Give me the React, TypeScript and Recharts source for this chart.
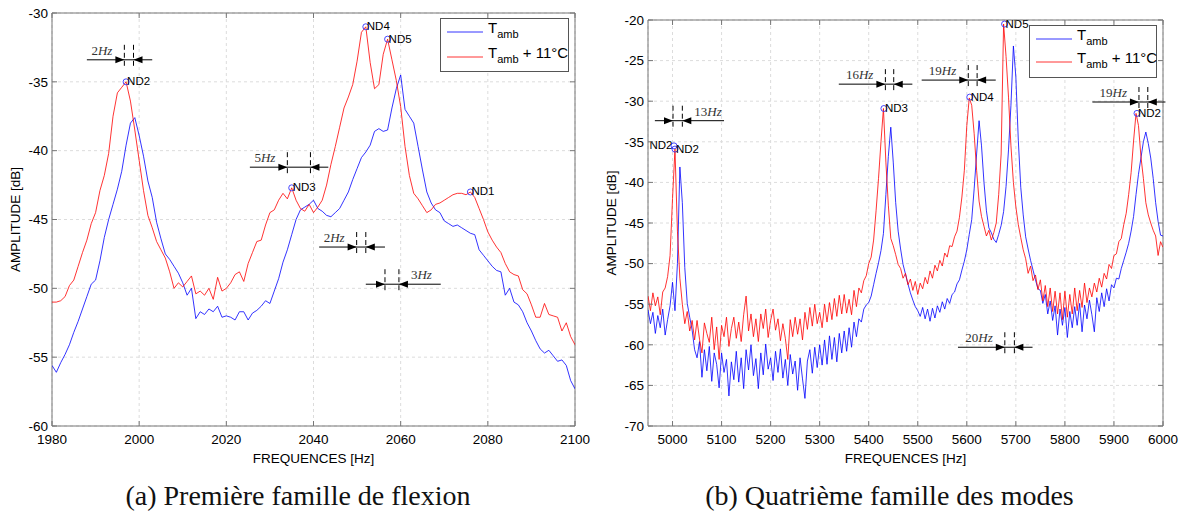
import React from "react";
import {
  ComposedChart,
  Line,
  Scatter,
  XAxis,
  YAxis,
  CartesianGrid,
  ReferenceLine,
  ReferenceDot,
  ReferenceArea,
  Legend,
} from "recharts";

// (a) first bending family, 1 Hz grid
const FREQ_A = Array.from({ length: 121 }, (_, i) => 1980 + i);
const TAMB_A = [
  -55.6, -56.1, -55.4, -54.8, -54.1, -53.2, -52.4, -51.5, -50.6, -49.7,
  -49.4, -48.0, -46.3, -45.0, -43.9, -42.8, -41.5, -39.6, -38.0, -37.6,
  -38.9, -40.4, -42.2, -43.4, -45.2, -46.4, -47.5, -47.9, -48.4, -48.9,
  -49.6, -50.5, -50.0, -52.2, -51.7, -51.9, -51.5, -51.7, -51.3, -52.1,
  -52.0, -52.1, -52.3, -51.7, -51.7, -52.3, -51.8, -51.6, -51.3, -50.9,
  -51.1, -50.2, -49.3, -48.1, -47.2, -46.1, -45.0, -44.3, -44.1, -43.9,
  -43.6, -44.2, -44.4, -44.7, -44.8, -44.5, -44.2, -43.6, -43.0, -42.1,
  -41.3, -40.5, -40.1, -39.6, -38.6, -38.4, -38.6, -38.5, -36.9, -35.5,
  -34.5, -37.0, -37.5, -38.0, -39.7, -41.4, -43.0, -43.8, -44.3, -44.5,
  -45.1, -45.3, -45.5, -45.4, -45.6, -45.8, -46.0, -46.1, -47.2, -47.6,
  -48.0, -48.4, -48.7, -48.8, -50.5, -50.0, -51.0, -51.2, -51.7, -52.5,
  -53.1, -53.8, -54.4, -54.7, -54.5, -54.9, -55.3, -55.2, -55.6, -56.7,
  -57.3,
];
const TPLUS_A = [
  -51.0, -51.0, -50.9, -50.6, -49.8, -49.4, -48.4, -47.4, -46.5, -45.3,
  -44.5, -42.9, -41.8, -40.2, -37.5, -35.8, -35.4, -35.0, -36.4, -38.5,
  -40.7, -42.9, -44.7, -45.6, -46.6, -47.2, -47.8, -48.8, -50.0, -49.6,
  -49.9, -49.5, -49.1, -50.4, -50.2, -50.5, -50.0, -50.8, -49.2, -50.2,
  -50.0, -49.6, -49.0, -48.8, -49.5, -48.2, -47.4, -46.6, -46.5, -45.4,
  -44.5, -44.3, -43.6, -43.1, -43.5, -42.7, -43.6, -44.2, -44.4, -43.9,
  -44.5, -44.1, -43.6, -42.5, -41.0, -39.7, -38.3, -36.9, -36.1, -35.2,
  -33.5, -31.4, -31.0, -33.6, -35.5, -35.2, -33.0, -31.9, -33.4, -34.9,
  -36.8, -39.7, -41.8, -43.1, -43.5, -44.0, -44.5, -44.3, -43.9, -43.8,
  -43.6, -43.4, -43.2, -43.1, -43.1, -43.2, -43.0, -43.4, -44.2, -45.0,
  -45.9, -46.5, -47.0, -47.4, -48.2, -48.8, -49.0, -49.1, -50.1, -50.4,
  -51.2, -52.1, -52.1, -51.1, -51.9, -52.0, -52.1, -53.1, -52.5, -53.5,
  -54.1,
];
const XTICKS_A = [1980, 2000, 2020, 2040, 2060, 2080, 2100];
const YTICKS_A = [-60, -55, -50, -45, -40, -35, -30];
const PEAKS_A = [
  { f: 1997, v: -35.0, name: "ND2" },
  { f: 2035, v: -42.7, name: "ND3" },
  { f: 2052, v: -31.0, name: "ND4" },
  { f: 2057, v: -31.9, name: "ND5" },
  { f: 2076, v: -43.0, name: "ND1" },
];
const GAPS_A = [
  { hz: "2", f1: 1996.6, f2: 1998.7, v: -33.4, from: 1988, to: 2003, side: "left" },
  { hz: "5", f1: 2034, f2: 2039.3, v: -41.2, from: 2025.4, to: 2043.4, side: "left" },
  { hz: "2", f1: 2049.9, f2: 2052, v: -47.0, from: 2041.3, to: 2056.4, side: "left" },
  { hz: "3", f1: 2056.4, f2: 2059.6, v: -49.7, from: 2052, to: 2069.2, side: "right" },
];

// (b) fourth mode family, 5 Hz grid
const FREQ_B = Array.from({ length: 211 }, (_, i) => 4950 + 5 * i);
const TAMB_B = [
  -55.7, -57.4, -56.0, -58.6, -56.4, -57.9, -55.6, -58.8, -56.9, -55.2,
  -52.3, -55.8, -50.0, -38.1, -42.5, -50.5, -54.9, -56.6, -58.2, -60.6,
  -61.6, -59.6, -64.0, -60.6, -63.2, -60.2, -64.5, -61.0, -62.4, -65.3,
  -61.0, -63.4, -61.8, -66.3, -62.1, -64.3, -60.8, -64.6, -61.6, -65.4,
  -60.6, -63.1, -60.0, -63.8, -61.7, -65.4, -61.0, -63.7, -59.9, -63.0,
  -61.6, -64.4, -60.8, -63.4, -60.5, -64.1, -61.8, -65.0, -61.2, -63.6,
  -62.0, -65.6, -61.6, -64.2, -66.6, -62.0, -60.6, -63.5, -60.3, -62.8,
  -60.0, -62.5, -59.4, -62.4, -58.9, -61.8, -59.1, -62.1, -58.6, -61.0,
  -58.3, -60.8, -57.9, -60.3, -57.2, -59.0, -56.8, -57.2, -55.6, -55.1,
  -54.8, -54.0, -52.6, -51.2, -49.9, -48.4, -46.3, -41.5, -36.8, -33.2,
  -37.5, -42.5, -46.0, -48.2, -50.1, -51.3, -52.5, -53.6, -54.5, -55.3,
  -55.8, -56.5, -55.4, -56.8, -55.6, -57.1, -55.5, -56.7, -55.2, -56.0,
  -54.7, -55.6, -54.3, -54.9, -53.8, -53.5, -52.5, -52.0, -50.8, -49.7,
  -48.3, -46.4, -44.6, -40.8, -36.5, -32.4, -35.5, -40.0, -43.5, -45.6,
  -46.2, -47.0, -47.4, -46.4, -45.3, -43.6, -40.5, -36.0, -30.5, -23.2,
  -27.0, -34.8, -40.6, -44.0, -46.7, -48.2, -49.6, -50.8, -52.0, -53.1,
  -53.3, -54.9, -53.8, -56.2, -54.6, -57.0, -55.2, -58.8, -55.6, -57.6,
  -55.4, -59.1, -55.9, -57.9, -55.3, -57.6, -54.9, -58.4, -55.1, -56.8,
  -54.5, -56.3, -58.4, -54.2, -55.9, -53.6, -55.3, -53.1, -54.6, -52.6,
  -53.0, -51.8, -51.9, -50.6, -49.6, -48.6, -47.5, -46.0, -44.2, -41.5,
  -39.0, -37.0, -35.0, -33.8, -35.2, -37.0, -39.5, -42.5, -44.8, -46.5,
  -46.6,
];
const TPLUS_B = [
  -54.0, -55.8, -53.6, -55.2, -54.1, -56.3, -53.5, -53.0, -51.6, -49.0,
  -42.0, -35.9, -46.0, -51.8, -55.0, -57.4, -55.9, -58.3, -57.0, -59.4,
  -57.0, -59.3, -61.0, -57.3, -58.6, -59.7, -56.6, -60.6, -57.8, -61.8,
  -57.6, -59.0, -56.6, -60.2, -58.0, -56.6, -59.2, -57.2, -59.6, -56.3,
  -54.0, -58.3, -56.2, -59.0, -56.8, -59.6, -56.2, -58.0, -55.6, -59.1,
  -57.0, -55.6, -58.2, -56.8, -59.5, -57.4, -59.2, -61.8, -56.9, -59.0,
  -56.6, -58.7, -56.8, -59.4, -56.0, -58.1, -55.4, -57.7, -55.0, -57.4,
  -56.0, -57.9, -55.0, -57.2, -54.8, -56.9, -54.3, -56.5, -53.9, -56.2,
  -53.8, -56.1, -54.4, -56.3, -53.3, -55.3, -53.0, -53.6, -52.1, -51.5,
  -50.0, -49.2, -47.1, -43.5, -39.5, -35.0, -30.9, -37.5, -42.8, -46.9,
  -47.8, -48.9, -50.1, -50.6, -51.8, -51.2, -52.6, -51.9, -53.3, -52.2,
  -53.8, -52.4, -53.1, -51.7, -52.5, -50.9, -51.8, -50.2, -50.9, -49.6,
  -50.3, -48.7, -49.2, -47.8, -47.9, -46.7, -46.0, -44.3, -41.8, -38.5,
  -33.0, -29.6, -30.5, -34.0, -38.5, -42.3, -44.2, -45.4, -46.6, -45.9,
  -47.1, -46.2, -45.0, -41.5, -36.5, -20.5, -24.5, -29.5, -35.5, -40.0,
  -43.0, -45.2, -46.8, -48.3, -49.4, -51.2, -50.3, -52.1, -51.4, -53.2,
  -52.0, -54.6, -52.7, -55.3, -53.0, -55.9, -53.4, -56.2, -53.6, -56.9,
  -53.4, -56.6, -53.8, -56.2, -53.0, -55.8, -53.3, -55.4, -52.4, -54.8,
  -53.0, -54.1, -52.4, -53.5, -51.8, -52.9, -51.2, -51.9, -50.1, -50.6,
  -49.0, -48.8, -47.3, -46.9, -45.2, -43.8, -41.5, -38.8, -34.9, -31.5,
  -33.0, -36.8, -39.5, -42.5, -44.0, -45.0, -45.9, -46.6, -49.0, -47.3,
  -48.0,
];
const XTICKS_B = [5000, 5100, 5200, 5300, 5400, 5500, 5600, 5700, 5800, 5900, 6000];
const YTICKS_B = [-70, -65, -60, -55, -50, -45, -40, -35, -30, -25, -20];
const PEAKS_B = [
  { f: 5003, v: -35.5, name: "ND2", anchor: "end" },
  { f: 5005, v: -35.9, name: "ND2" },
  { f: 5431, v: -30.9, name: "ND3" },
  { f: 5606, v: -29.5, name: "ND4" },
  { f: 5677, v: -20.5, name: "ND5" },
  { f: 5947, v: -31.5, name: "ND2" },
];
const GAPS_B = [
  { hz: "13", f1: 5001, f2: 5020, v: -32.4, from: 4964, to: 5105, side: "right" },
  { hz: "16", f1: 5434, f2: 5451, v: -27.9, from: 5339, to: 5489, side: "left" },
  { hz: "19", f1: 5603, f2: 5621, v: -27.4, from: 5508, to: 5659, side: "left" },
  { hz: "20", f1: 5677.5, f2: 5697, v: -60.3, from: 5582, to: 5734, side: "left" },
  { hz: "19", f1: 5951, f2: 5969, v: -30.1, from: 5856, to: 6005, side: "left" },
];

const AXIS = "#777";
const SANS = "'Liberation Sans', Arial, Helvetica, sans-serif";
const SERIF = "'Liberation Serif', 'Times New Roman', serif";
const BLUE = "#0000ff";
const RED = "#ff0000";

type Plot = { left: number; right: number; top: number; bottom: number };

const gapEnd = (dir: number, hz?: string, side?: string) => (p: any) => {
  const { cx, cy } = p;
  const tri =
    dir > 0
      ? `M${cx - 9},${cy - 3.5} L${cx},${cy} L${cx - 9},${cy + 3.5} Z`
      : `M${cx + 9},${cy - 3.5} L${cx},${cy} L${cx + 9},${cy + 3.5} Z`;
  return (
    <g>
      <line x1={cx} x2={cx} y1={cy - 15} y2={cy + 8} stroke="#000" strokeDasharray="5 3" />
      <path d={tri} fill="#000" />
      {hz && (
        <text
          x={side === "left" ? cx - 12 : cx + 12}
          y={cy - 5}
          textAnchor={side === "left" ? "end" : "start"}
          fontFamily={SERIF}
          fontSize={13}
          fill="#333"
        >
          {hz}
          <tspan fontStyle="italic">Hz</tspan>
        </text>
      )}
    </g>
  );
};

const peakShape = (p: any) => {
  const { cx, cy, payload } = p;
  const end = payload.anchor === "end";
  return (
    <g>
      <circle cx={cx} cy={cy} r={3} fill="none" stroke="#3333ff" strokeWidth={0.9} />
      <text
        x={end ? cx - 1.5 : cx + 1}
        y={cy + 3.5}
        textAnchor={end ? "end" : "start"}
        fontFamily={SANS}
        fontSize={11.5}
        fill="#000"
      >
        {payload.name}
      </text>
    </g>
  );
};

function Panel(props: {
  x0: number;
  width: number;
  plot: Plot;
  freq: number[];
  tamb: number[];
  tplus: number[];
  xDomain: [number, number];
  yDomain: [number, number];
  xTicks: number[];
  yTicks: number[];
  peaks: any[];
  gaps: any[];
  yTitleX: number;
  legend: { x: number; y: number; w: number; h: number; l1: number; l2: number };
  caption: string;
}) {
  const { x0, width, plot, freq, tamb, tplus, xDomain, yDomain, xTicks, yTicks, peaks, gaps, legend } = props;
  const H = 470;
  const yAxisW = 40;
  const rows = freq.map((f, i) => ({ f, tamb: tamb[i], tplus: tplus[i] }));

  const xTick = (p: any) => (
    <g>
      <line x1={p.x} x2={p.x} y1={plot.bottom} y2={plot.bottom - 5} stroke={AXIS} />
      <line x1={p.x} x2={p.x} y1={plot.top} y2={plot.top + 5} stroke={AXIS} />
      <text x={p.x} y={plot.bottom + 17.5} textAnchor="middle" fontFamily={SANS} fontSize={13.5} fill="#000">
        {p.payload.value}
      </text>
    </g>
  );
  const yTick = (p: any) => (
    <g>
      <line x1={plot.left} x2={plot.left + 5} y1={p.y} y2={p.y} stroke={AXIS} />
      <line x1={plot.right} x2={plot.right - 5} y1={p.y} y2={p.y} stroke={AXIS} />
      <text x={plot.left - 4} y={p.y + 4.8} textAnchor="end" fontFamily={SANS} fontSize={13.5} fill="#000">
        {p.payload.value}
      </text>
    </g>
  );
  const xTitle = () => (
    <text x={(plot.left + plot.right) / 2} y={462.5} textAnchor="middle" fontFamily={SANS} fontSize={13.5} fill="#000">
      FREQUENCES [Hz]
    </text>
  );
  const ty = (plot.top + plot.bottom) / 2;
  const yTitle = () => (
    <text
      x={props.yTitleX}
      y={ty}
      transform={`rotate(-90 ${props.yTitleX} ${ty})`}
      textAnchor="middle"
      dominantBaseline="central"
      fontFamily={SANS}
      fontSize={13.5}
      fill="#000"
    >
      AMPLITUDE [dB]
    </text>
  );
  const legendContent = () => (
    <svg width={legend.w} height={legend.h} style={{ display: "block" }}>
      <rect x={0.5} y={0.5} width={legend.w - 1} height={legend.h - 1} fill="#fff" stroke="#555" />
      <line x1={7} x2={43} y1={legend.l1} y2={legend.l1} stroke={BLUE} strokeWidth={0.8} />
      <line x1={7} x2={43} y1={legend.l2} y2={legend.l2} stroke={RED} strokeWidth={0.8} />
      <text x={48} y={legend.l1 + 1} fontFamily={SANS} fontSize={15} fill="#000">
        T<tspan fontSize={11} dy={5}>amb</tspan>
      </text>
      <text x={48} y={legend.l2 + 1} fontFamily={SANS} fontSize={15} fill="#000">
        T<tspan fontSize={11} dy={5}>amb</tspan>
        <tspan dy={-5}> + 11°C</tspan>
      </text>
    </svg>
  );

  return (
    <div style={{ position: "absolute", left: x0, top: 0, width, height: 514 }}>
      <ComposedChart
        width={width}
        height={H}
        data={rows}
        margin={{ top: plot.top, right: width - plot.right, bottom: 4, left: plot.left - yAxisW }}
      >
        <CartesianGrid stroke="#dcdcdc" strokeDasharray="3 3" />
        <XAxis
          dataKey="f"
          type="number"
          domain={xDomain}
          ticks={xTicks}
          interval={0}
          allowDataOverflow
          height={H - 4 - plot.bottom}
          tickLine={false}
          axisLine={false}
          tick={xTick}
          label={xTitle}
        />
        <YAxis
          type="number"
          domain={yDomain}
          ticks={yTicks}
          interval={0}
          allowDataOverflow
          width={yAxisW}
          tickLine={false}
          axisLine={false}
          tick={yTick}
          label={yTitle}
        />
        <ReferenceArea
          x1={xDomain[0]}
          x2={xDomain[1]}
          y1={yDomain[0]}
          y2={yDomain[1]}
          fill="none"
          fillOpacity={0}
          stroke={AXIS}
          strokeOpacity={1}
          ifOverflow="visible"
        />
        <Line
          type="linear"
          dataKey="tamb"
          stroke={BLUE}
          strokeWidth={0.8}
          dot={false}
          activeDot={false}
          isAnimationActive={false}
        />
        <Line
          type="linear"
          dataKey="tplus"
          stroke={RED}
          strokeWidth={0.8}
          dot={false}
          activeDot={false}
          isAnimationActive={false}
        />
        {gaps.map((g, i) => (
          <ReferenceLine
            key={`gl-${i}`}
            segment={[
              { x: g.from, y: g.v },
              { x: g.to, y: g.v },
            ]}
            stroke="#000"
            ifOverflow="visible"
          />
        ))}
        {gaps.map((g, i) => (
          <ReferenceDot
            key={`ga-${i}`}
            x={g.f1}
            y={g.v}
            r={1}
            ifOverflow="visible"
            shape={gapEnd(1, g.side === "left" ? g.hz : undefined, g.side)}
          />
        ))}
        {gaps.map((g, i) => (
          <ReferenceDot
            key={`gb-${i}`}
            x={g.f2}
            y={g.v}
            r={1}
            ifOverflow="visible"
            shape={gapEnd(-1, g.side === "right" ? g.hz : undefined, g.side)}
          />
        ))}
        <Scatter data={peaks} dataKey="v" shape={peakShape} isAnimationActive={false} />
        <Legend
          layout="vertical"
          align="center"
          verticalAlign="middle"
          content={legendContent}
          wrapperStyle={{ position: "absolute", left: legend.x, top: legend.y, width: legend.w, height: legend.h }}
        />
      </ComposedChart>
      <svg width={width} height={44} style={{ position: "absolute", left: 0, top: H }}>
        <text x={width / 2 - 2} y={35} textAnchor="middle" fontFamily={SERIF} fontSize={28} fill="#111">
          {props.caption}
        </text>
      </svg>
    </div>
  );
}

export default function App() {
  return (
    <div style={{ position: "absolute", left: 0, top: 0, width: 1183, height: 514, background: "#fff" }}>
      <Panel
        x0={0}
        width={600}
        plot={{ left: 52, right: 575, top: 13, bottom: 426 }}
        freq={FREQ_A}
        tamb={TAMB_A}
        tplus={TPLUS_A}
        xDomain={[1980, 2100]}
        yDomain={[-60, -30]}
        xTicks={XTICKS_A}
        yTicks={YTICKS_A}
        peaks={PEAKS_A}
        gaps={GAPS_A}
        yTitleX={15}
        legend={{ x: 440, y: 18, w: 129, h: 54, l1: 14, l2: 39 }}
        caption="(a) Première famille de flexion"
      />
      <Panel
        x0={600}
        width={583}
        plot={{ left: 48, right: 563, top: 20, bottom: 426 }}
        freq={FREQ_B}
        tamb={TAMB_B}
        tplus={TPLUS_B}
        xDomain={[4950, 6000]}
        yDomain={[-70, -20]}
        xTicks={XTICKS_B}
        yTicks={YTICKS_B}
        peaks={PEAKS_B}
        gaps={GAPS_B}
        yTitleX={11}
        legend={{ x: 429, y: 25, w: 128, h: 53, l1: 14, l2: 37 }}
        caption="(b) Quatrième famille des modes"
      />
    </div>
  );
}
